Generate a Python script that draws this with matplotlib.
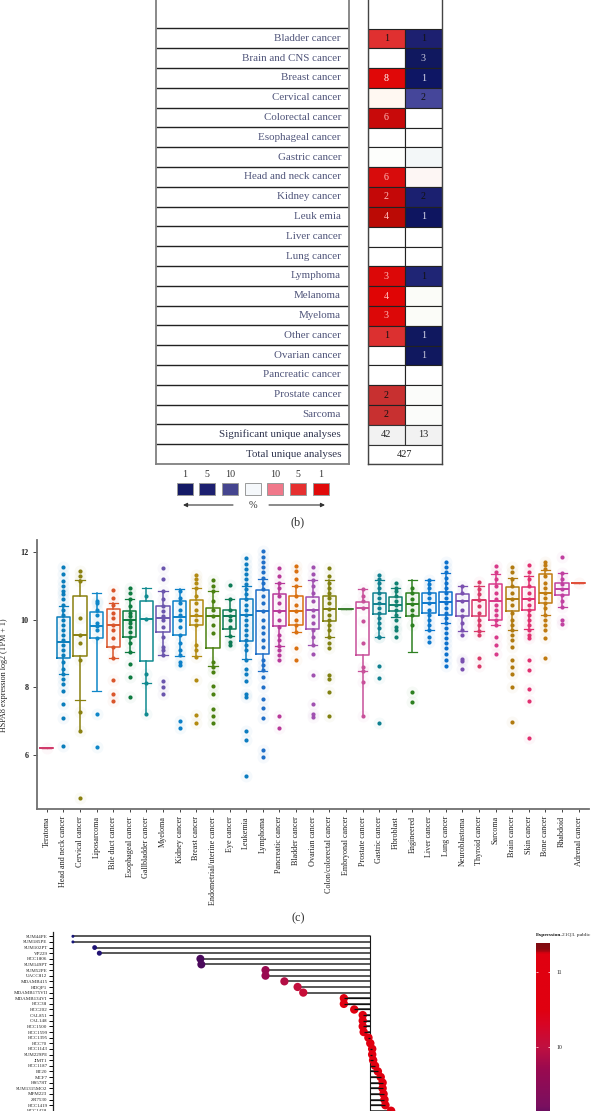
import numpy as np
import matplotlib
matplotlib.use("Agg")
import matplotlib.pyplot as plt
from matplotlib.colors import LinearSegmentedColormap, Normalize

plt.rcParams['font.family'] = ['Liberation Serif', 'DejaVu Serif']

W, H = 597, 1111

# ---------- panel (b) data ----------
table_rows = ["Bladder cancer", "Brain and CNS cancer", "Breast cancer", "Cervical cancer",
              "Colorectal cancer", "Esophageal cancer", "Gastric cancer", "Head and neck cancer",
              "Kidney cancer", "Leuk emia", "Liver cancer", "Lung cancer", "Lymphoma", "Melanoma",
              "Myeloma", "Other cancer", "Ovarian cancer", "Pancreatic cancer", "Prostate cancer",
              "Sarcoma"]
up_counts = ["1", "", "8", "", "6", "", "", "6", "2", "4", "", "", "3", "4", "3", "1", "", "", "2", "2"]
down_counts = ["1", "3", "1", "2", "", "", "", "", "2", "1", "", "", "1", "", "", "1", "1", "", "", ""]
up_colors = ["#e03030", "#ffffff", "#e00808", "#fff8f2", "#c80a0a", "#ffffff", "#fdfefc", "#d80c0c",
             "#c40808", "#bb0a05", "#ffffff", "#ffffff", "#dc0808", "#e00505", "#dc0808", "#dc3030",
             "#ffffff", "#ffffff", "#c83030", "#c83030"]
down_colors = ["#1d2070", "#10185f", "#0e1664", "#45469a", "#ffffff", "#ffffff", "#f3f7f8", "#fdf6f4",
               "#1b2070", "#0e1560", "#ffffff", "#ffffff", "#1f2575", "#fbfcf8", "#fbfcf8", "#10185f",
               "#10185f", "#ffffff", "#fbfcfa", "#fbfcfa"]
up_text = ["#111", "", "#fff", "", "#fbb", "", "", "#fbb", "#fbb", "#fbb", "", "", "#fbb", "#fbb", "#fbb",
           "#111", "", "", "#111", "#111"]
down_text = ["#111", "#ccd", "#dde", "#111", "", "", "", "", "#111", "#dde", "", "", "#111", "", "", "#dde",
             "#ccd", "", "", ""]
summary_labels = ["Significant unique analyses", "Total unique analyses"]
significant = ["42", "13"]
total = "427"
legend_labels = ["1", "5", "10", "", "10", "5", "1"]
legend_colors = ["#141a66", "#1d2070", "#45458f", "#f5f8fb", "#f0788a", "#e63030", "#e00a0a"]

# ---------- panel (c) data ----------
cancers = ["Teratoma", "Head and neck cancer", "Cervical cancer", "Liposarcoma", "Bile duct cancer",
           "Esophageal cancer", "Gallbladder cancer", "Myeloma", "Kidney cancer", "Breast cancer",
           "Endometrial/uterine cancer", "Eye cancer", "Leukemia", "Lymphoma", "Pancreatic cancer",
           "Bladder cancer", "Ovarian cancer", "Colon/colorectal cancer", "Embryonal cancer",
           "Prostate cancer", "Gastric cancer", "Fibroblast", "Engineered", "Liver cancer", "Lung cancer",
           "Neuroblastoma", "Thyroid cancer", "Sarcoma", "Brain cancer", "Skin cancer", "Bone cancer",
           "Rhabdoid", "Adrenal cancer"]
q1 = [6.2, 8.87, 8.92, 9.46, 9.19, 9.5, 8.79, 9.65, 9.56, 9.85, 9.16, 9.73, 9.38, 8.98, 9.82, 9.83, 9.72,
      9.96, 10.32, 8.96, 10.17, 10.27, 10.1, 10.2, 10.14, 10.1, 10.1, 10.0, 10.25, 10.3, 10.51, 10.72, 11.1]
median = [6.2, 9.33, 9.55, 9.82, 9.85, 9.98, 10.02, 10.05, 10.08, 10.1, 10.12, 10.12, 10.14, 10.25, 10.25,
          10.25, 10.3, 10.32, 10.32, 10.35, 10.47, 10.44, 10.47, 10.49, 10.53, 10.54, 10.57, 10.56, 10.61,
          10.62, 10.79, 10.91, 11.1]
q3 = [6.2, 10.08, 10.69, 10.24, 10.32, 10.27, 10.55, 10.41, 10.55, 10.58, 10.36, 10.29, 10.61, 10.88, 10.76,
      10.69, 10.68, 10.71, 10.32, 10.52, 10.8, 10.66, 10.78, 10.79, 10.82, 10.76, 10.57, 11.05, 10.97, 10.97,
      11.35, 11.1, 11.1]
whisk_lo = [6.2, 8.4, 7.63, 7.9, 8.86, 9.05, 8.13, 8.96, 8.93, 8.92, 8.62, 9.53, 8.84, 8.49, 9.23, 9.63, 9.26,
            9.48, 10.32, 8.47, 9.48, 10.08, 9.06, 9.7, 9.9, 9.67, 9.67, 9.83, 9.7, 9.73, 10.15, 10.37, 11.1]
whisk_hi = [6.2, 10.41, 11.18, 10.79, 10.5, 10.6, 10.94, 10.84, 10.9, 10.94, 10.86, 10.6, 10.99, 11.2, 11.08,
            10.99, 11.18, 11.18, 10.32, 10.9, 11.18, 10.94, 11.18, 11.18, 11.38, 11.0, 10.99, 11.35, 11.23,
            11.28, 11.46, 11.38, 11.1]
tail_cancers = ["Cervical cancer", "Gallbladder cancer", "Prostate cancer"]
tail_values = [6.7, 7.22, 7.16]
points = [
    [6.2],
    [6.25, 7.1, 7.5, 7.9, 8.1, 8.25, 8.4, 8.55, 8.75, 8.95, 9.1, 9.25, 9.4, 9.55, 9.7, 9.85, 10.0, 10.15, 10.3,
     10.45, 10.6, 10.75, 10.85, 11.0, 11.15, 11.35, 11.55],
    [4.72, 6.7, 7.27, 8.8, 9.3, 9.55, 10.05, 11.15, 11.3, 11.43],
    [6.22, 7.22, 9.45, 9.7, 9.82, 9.9, 10.15, 10.3, 10.5, 10.55],
    [7.6, 7.8, 8.22, 8.86, 9.2, 9.45, 9.7, 9.85, 10.05, 10.2, 10.45, 10.65, 10.88],
    [7.7, 8.32, 8.7, 9.05, 9.3, 9.5, 9.65, 9.8, 9.9, 10.0, 10.1, 10.2, 10.4, 10.6, 10.8, 10.95],
    [7.22, 8.13, 8.4, 10.02, 10.7],
    [7.8, 8.0, 8.2, 8.96, 9.1, 9.2, 9.5, 9.8, 10.0, 10.1, 10.25, 10.4, 10.6, 10.85, 11.22, 11.53],
    [6.8, 7.0, 8.65, 8.75, 8.95, 9.1, 9.3, 9.55, 9.8, 10.0, 10.15, 10.3, 10.5, 10.65, 10.85],
    [6.93, 7.18, 8.23, 8.9, 9.1, 9.25, 9.85, 10.0, 10.15, 10.3, 10.5, 10.7, 10.95, 11.1, 11.2, 11.32],
    [6.93, 7.15, 7.37, 7.8, 8.05, 8.45, 8.6, 8.75, 9.6, 9.85, 10.1, 10.3, 10.55, 10.85, 11.0, 11.18],
    [9.25, 9.35, 9.53, 9.8, 10.0, 10.12, 10.3, 10.6, 11.02],
    [5.38, 6.45, 6.7, 7.7, 7.8, 8.2, 8.4, 8.55, 8.8, 9.1, 9.25, 9.4, 9.55, 9.7, 9.85, 10.0, 10.15, 10.3, 10.45,
     10.6, 10.75, 10.9, 11.05, 11.2, 11.35, 11.5, 11.65, 11.82],
    [5.95, 6.15, 7.08, 7.4, 7.65, 8.0, 8.3, 8.5, 8.65, 8.8, 9.2, 9.4, 9.6, 9.8, 10.0, 10.25, 10.5, 10.7, 10.9,
     11.1, 11.25, 11.4, 11.55, 11.7, 11.85, 12.03],
    [6.8, 7.15, 8.8, 8.95, 9.1, 9.23, 9.4, 9.55, 9.8, 10.0, 10.25, 10.5, 10.7, 10.95, 11.1, 11.3, 11.53],
    [8.82, 9.15, 9.63, 9.85, 10.0, 10.25, 10.45, 10.7, 11.0, 11.2, 11.45, 11.6],
    [7.12, 7.2, 7.52, 8.37, 9.0, 9.26, 9.5, 9.7, 9.9, 10.1, 10.3, 10.55, 10.8, 11.0, 11.18, 11.35, 11.55],
    [7.15, 7.87, 8.25, 8.37, 9.15, 9.3, 9.5, 9.7, 9.85, 10.0, 10.15, 10.32, 10.5, 10.65, 10.8, 10.95, 11.1, 11.3, 11.52],
    [10.32],
    [7.16, 8.15, 8.47, 8.6, 9.3, 9.95, 10.35, 10.55, 10.7, 10.9],
    [6.95, 8.29, 8.63, 9.48, 9.5, 9.75, 9.9, 10.05, 10.2, 10.35, 10.5, 10.65, 10.8, 10.95, 11.1, 11.2, 11.33],
    [9.5, 9.7, 9.8, 10.0, 10.15, 10.3, 10.44, 10.55, 10.7, 10.85, 10.95, 11.1],
    [7.57, 7.87, 9.85, 10.15, 10.3, 10.47, 10.6, 10.8, 10.95],
    [9.35, 9.5, 9.7, 9.85, 10.0, 10.15, 10.3, 10.49, 10.65, 10.8, 10.95, 11.05, 11.18],
    [8.62, 8.8, 9.0, 9.15, 9.3, 9.45, 9.6, 9.75, 9.9, 10.05, 10.2, 10.35, 10.5, 10.65, 10.8, 10.95, 11.1, 11.25,
     11.4, 11.55, 11.72],
    [8.55, 8.78, 8.85, 9.55, 9.7, 9.9, 10.1, 10.3, 10.54, 10.8, 11.0],
    [8.63, 8.88, 9.55, 9.67, 9.85, 10.0, 10.2, 10.4, 10.57, 10.75, 10.9, 11.13],
    [9.0, 9.25, 9.5, 9.83, 10.0, 10.15, 10.3, 10.45, 10.6, 10.8, 11.0, 11.2, 11.4, 11.6],
    [6.97, 8.0, 8.4, 8.6, 8.82, 9.2, 9.4, 9.55, 9.7, 9.85, 10.0, 10.2, 10.45, 10.61, 10.8, 11.0, 11.2, 11.4, 11.55],
    [6.5, 7.6, 7.95, 8.52, 8.82, 9.45, 9.55, 9.7, 9.85, 10.0, 10.15, 10.3, 10.45, 10.62, 10.8, 11.0, 11.2, 11.4, 11.63],
    [8.87, 9.47, 9.7, 9.85, 10.0, 10.15, 10.35, 10.5, 10.65, 10.79, 10.95, 11.1, 11.3, 11.5, 11.62, 11.72],
    [9.88, 10.0, 10.37, 10.55, 10.72, 10.91, 11.05, 11.2, 11.38, 11.87],
    [11.1],
]
box_colors = ["#d03a6a", "#0a7dbb", "#8a8010", "#0e86c8", "#d9552b", "#0d7a3f", "#0f8a8f", "#6a55ad",
              "#0c80c8", "#b28a10", "#4a8010", "#0d7a55", "#0c7cc0", "#1f6fc8", "#b83a9a", "#d97010",
              "#a050b0", "#808010", "#3d8030", "#c8509a", "#0f8090", "#0f8070", "#2d8020", "#0c78cc",
              "#0c70cc", "#7a50b0", "#d93a6a", "#d83a8a", "#b07a10", "#e03070", "#c07a10", "#c040a0", "#e0503a"]

# ---------- panel (d) data ----------
cell_lines = ["SUM44PE", "SUM185PE", "SUM102PT", "VP229", "HCC1806", "SUM149PT", "SUM52PE", "UACC812", "MDAMB415",
              "HDQP1", "MDAMB175VII", "MDAMB134VI", "HCC38", "HCC202", "CAL851", "CAL148", "HCC1500", "HCC1599",
              "HCC1395", "HCC70", "HCC1143", "SUM229PE", "JIMT1", "HCC1187", "BT20", "MCF7", "HS578T",
              "SUM1315MO2", "MFM223", "ZR7530", "HCC1419", "HCC1428"]
expression = [7.65, 7.65, 7.88, 7.93, 9.0, 9.01, 9.69, 9.69, 9.89, 10.03, 10.09, 10.52, 10.52, 10.63, 10.72,
              10.72, 10.72, 10.73, 10.78, 10.80, 10.82, 10.82, 10.83, 10.85, 10.88, 10.91, 10.93, 10.93, 10.94,
              10.95, 10.96, 11.02]
baseline_expr = 10.8
cbar_ticks = [11, 10]


def ax_px(l, t, r, b, **kw):
    return fig.add_axes([l / W, 1 - b / H, (r - l) / W, (b - t) / H], **kw)


def tx(x, y, s, **kw):
    kw.setdefault('ha', 'center')
    kw.setdefault('va', 'center')
    fig.text(x / W, 1 - y / H, s, **kw)


fig = plt.figure(figsize=(W / 100, H / 100), dpi=100, facecolor='white')

# ---------- panel (b): table ----------
ROW = 19.8
Y0 = 28.5
n_rows = len(table_rows) + 2
row_top = -Y0 / ROW
L_LABEL, R_LABEL = 156, 349
L_VAL, R_VAL = 367.7, 442

axl = ax_px(L_LABEL, 0, R_LABEL, 464)
axl.set_xlim(0, 1)
axl.set_ylim(n_rows, row_top)
axl.hlines(np.arange(0, n_rows), 0, 1, color='#222222', lw=1.0)
for s in ['top']:
    axl.spines[s].set_visible(False)
for s in ['left', 'right', 'bottom']:
    axl.spines[s].set_color('#808080')
    axl.spines[s].set_linewidth(1.3)
axl.set_xticks([])
axl.set_yticks([])
for i, name in enumerate(table_rows + summary_labels):
    color = '#50557a' if i < len(table_rows) else '#30354f'
    axl.text((341 - L_LABEL) / (R_LABEL - L_LABEL), i + 0.5, name, ha='right', va='center',
             fontsize=7.9, color=color)

axv = ax_px(L_VAL, 0, R_VAL, 464.5)
axv.set_xlim(0, 2)
axv.set_ylim(n_rows, row_top)
rows_idx = np.arange(len(table_rows)) + 0.5
axv.barh(rows_idx, 1, left=0, height=1, color=up_colors, edgecolor='#222222', lw=0.8)
axv.barh(rows_idx, 1, left=1, height=1, color=down_colors, edgecolor='#222222', lw=0.8)
axv.barh([len(table_rows) + 0.5] * 2, [1, 1], left=[0, 1], height=1, color='#f2f2f2', edgecolor='#333333', lw=0.8)
axv.barh([len(table_rows) + 1.5], [2], left=[0], height=1, color='#ffffff', edgecolor='#333333', lw=0.8)
for i in range(len(table_rows)):
    if up_counts[i]:
        axv.text(0.5, i + 0.5, up_counts[i], ha='center', va='center', fontsize=7.2, color=up_text[i] or '#111')
    if down_counts[i]:
        axv.text(1.5, i + 0.5, down_counts[i], ha='center', va='center', fontsize=7.2, color=down_text[i] or '#111')
axv.text(0.5, len(table_rows) + 0.5, significant[0], ha='center', va='center', fontsize=7.4, color='#222')
axv.text(1.5, len(table_rows) + 0.5, significant[1], ha='center', va='center', fontsize=7.4, color='#222')
axv.text(1.0, len(table_rows) + 1.5, total, ha='center', va='center', fontsize=7.4, color='#222')
axv.spines['top'].set_visible(False)
for s in ['left', 'right', 'bottom']:
    axv.spines[s].set_color('#444444')
    axv.spines[s].set_linewidth(1.0)
axv.set_xticks([])
axv.set_yticks([])

# legend of table
axk = ax_px(170, 468, 335, 512)
axk.set_xlim(170, 335)
axk.set_ylim(512, 468)
axk.axis('off')
key_x = 176.7 + 22.67 * np.arange(len(legend_colors))
axk.bar(key_x, 12, width=16, bottom=483.3, align='edge', color=legend_colors, edgecolor='#9a9a9a', lw=0.7)
axk.set_ylim(512, 468)
for x0, lab in zip(key_x, legend_labels):
    axk.text(x0 + 8, 474.5, lab, ha='center', va='center', fontsize=7.2, color='#333')
for a, b in [(233, 183), (269, 325)]:
    axk.annotate('', xy=(b, 505), xytext=(a, 505),
                 arrowprops=dict(arrowstyle='-|>', lw=0.8, color='#333', mutation_scale=6, shrinkA=0, shrinkB=0))
axk.text(252.7, 505, '%', ha='center', va='center', fontsize=7.4, color='#333')
tx(298, 522, '(b)', fontsize=8.8, color='#333')

# ---------- panel (c): boxplots ----------
axc = ax_px(36.7, 540, 588.7, 809.3)
lefty, righty = 4.39, 12.36
pos = np.arange(len(cancers))
for i, c in enumerate(box_colors):
    axc.scatter([i] * len(points[i]), points[i], s=75, color=c, alpha=0.04, lw=0, zorder=1)
    stats = [dict(med=median[i], q1=q1[i], q3=q3[i], whislo=whisk_lo[i], whishi=whisk_hi[i], fliers=[])]
    single = q1[i] == q3[i]
    lw = 1.1
    axc.bxp(stats, positions=[i], widths=0.8, showfliers=False, manage_ticks=False,
            boxprops=dict(color=c, lw=lw), medianprops=dict(color=c, lw=1.4),
            whiskerprops=dict(color=c, lw=lw), capprops=dict(color=c, lw=0.9), capwidths=0.55, zorder=3)
    axc.scatter([i] * len(points[i]), points[i], s=9 if not single else 1, color=c, lw=0, zorder=4)
for name, val in zip(tail_cancers, tail_values):
    i = cancers.index(name)
    axc.vlines(i, val, whisk_lo[i], color=box_colors[i], lw=1.1, zorder=3)
axc.set_xlim(-0.6, 32.6)
axc.set_ylim(lefty, righty)
axc.set_yticks([6, 8, 10, 12])
axc.set_xticks(pos)
axc.set_xticklabels(cancers, rotation=90, fontsize=5.9, color='#222')
axc.tick_params(axis='x', length=2, width=0.7, pad=3, color='#444')
axc.tick_params(axis='y', length=3, width=0.7, pad=3, labelsize=5.9, color='#444', labelcolor='#222')
for lab in axc.get_yticklabels():
    lab.set_fontweight('bold')
for s in ['top', 'right']:
    axc.spines[s].set_visible(False)
for s in ['left', 'bottom']:
    axc.spines[s].set_color('#707070')
    axc.spines[s].set_linewidth(1.3)
tx(4.5, 675, 'HSPA8 expression log2 (TPM + 1)', rotation=90, fontsize=5.9, color='#222')
tx(298, 918, '(c)', fontsize=8.8, color='#333')

# ---------- panel (d): lollipop ----------
cmap_nodes = [(7.6, '#17177a'), (8.5, '#35106a'), (9.0, '#4a0a5c'), (9.2, '#7a1060'), (9.7, '#9a0a50'),
              (10.0, '#c01040'), (10.3, '#d80525'), (10.5, '#e00010'), (11.25, '#e00010'), (11.31, '#8a0a10'),
              (11.38, '#800a10')]
vmin, vmax = cmap_nodes[0][0], cmap_nodes[-1][0]
cmap = LinearSegmentedColormap.from_list('expr', [((v - vmin) / (vmax - vmin), col) for v, col in cmap_nodes])
norm = Normalize(vmin, vmax)

axd = ax_px(53.3, 932, 530, 1111)
rows = np.arange(len(cell_lines))
expr = np.array(expression)
axd.hlines(rows, expr, baseline_expr, color='#2a2a2a', lw=1.1, zorder=2)
axd.vlines(baseline_expr, -0.3, 31.03, color='#1a1a1a', lw=0.8, zorder=2)
diam_px = np.interp(expr, [7.65, 7.9, 9.0, 11.0], [3, 5, 8, 8.5])
axd.scatter(expr, rows, s=(diam_px * 0.72) ** 2, c=expr, cmap=cmap, norm=norm, lw=0, zorder=3)
axd.hlines(rows[expr >= 10.5], expr[expr >= 10.5], baseline_expr + 0.001, color='#111111', lw=0.9, zorder=4)
axd.set_xlim(10.8 + (53.3 - 370.3) / 94.4, 10.8 + (530 - 370.3) / 94.4)
axd.set_ylim((1111 - 936.3) / 5.63, (932 - 936.3) / 5.63)
axd.set_yticks(rows)
axd.set_yticklabels(cell_lines, fontsize=3.6, color='#222')
axd.tick_params(axis='y', length=3, width=0.7, pad=1.2)
axd.set_xticks([])
for s in ['top', 'right', 'bottom']:
    axd.spines[s].set_visible(False)
axd.spines['left'].set_linewidth(0.9)
axd.spines['left'].set_color('#222')

cbar_top = 11 + (971.7 - 943) / 75
cbar_bot = 10 - (1111 - 1046.7) / 75
axb = ax_px(536.3, 943, 549.7, 1111)
grad = np.linspace(cbar_top, cbar_bot, 256).reshape(-1, 1)
axb.imshow(grad, aspect='auto', cmap=cmap, norm=norm, extent=[0, 1, cbar_bot, cbar_top])
axb.set_xticks([])
axb.set_yticks(cbar_ticks)
axb.yaxis.tick_right()
axb.set_yticklabels([str(t) for t in cbar_ticks], fontsize=4.2, color='#222')
axb.tick_params(axis='y', length=0, pad=5)
for t in cbar_ticks:
    axb.hlines(t, 0, 0.12, color='#ffb0c0', lw=0.7)
    axb.hlines(t, 0.88, 1, color='#ffb0c0', lw=0.7)
for s in axb.spines.values():
    s.set_visible(False)
tx(536.3, 935, 'Expression.', ha='left', fontsize=3.9, fontweight='bold', color='#111')
tx(562, 935, '21Q3. public', ha='left', fontsize=3.9, color='#222')

fig.savefig('out.png', dpi=100, facecolor='white')
